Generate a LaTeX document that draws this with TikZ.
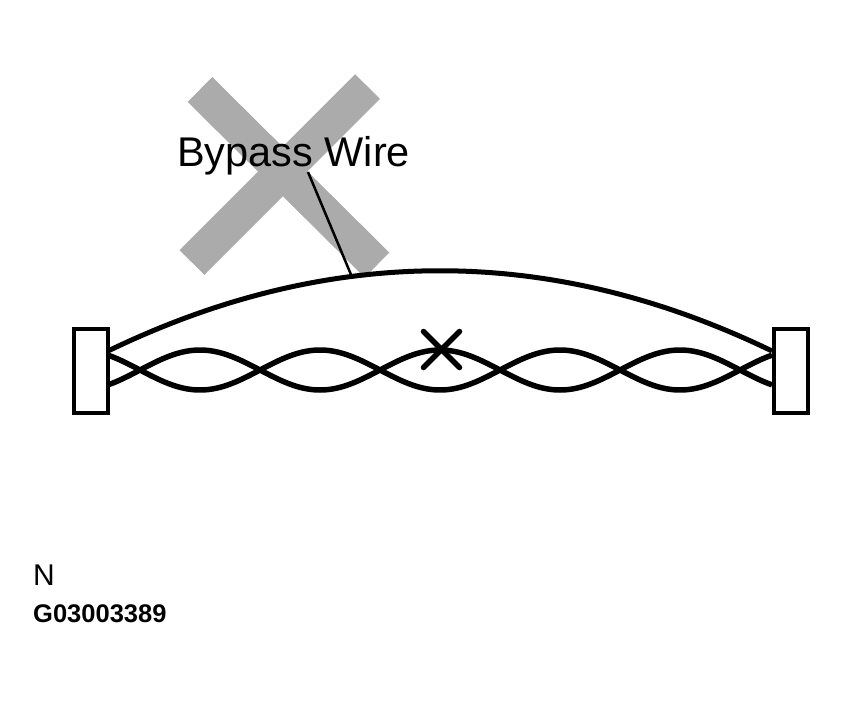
\documentclass[tikz,border=0pt]{standalone}
\usepackage{fontspec}
\setmainfont{Liberation Sans}
\usetikzlibrary{calc}
\begin{document}
\begin{tikzpicture}[x=1pt,y=-1pt,
  band/.style={line width=35pt,black!33,line cap=butt},
  wire/.style={line width=5.5pt,black},
  conn/.style={draw=black,line width=4pt,fill=white,minimum width=34pt,minimum height=84pt,inner sep=0pt},
  bypass/.style={line width=5pt,black},
  ptr/.style={line width=2.5pt,black},
  cut/.style={line width=5.5pt,black,line cap=round},
  lbl/.style={inner sep=0pt,anchor=base west}]
\useasboundingbox (0,0) rectangle (848,706);
% crossed-out (gray X)
\coordinate (a1) at (200,89.5);
\coordinate (a2) at (377,265);
\coordinate (b1) at (367.5,86.5);
\coordinate (b2) at (192,262.5);
\draw[band] (a1) -- (a2);
\draw[band] (b1) -- (b2);
% connectors
\node[conn] (left) at (90.5,370.5) {};
\node[conn] (right) at (790.5,370.5) {};
% twisted pair
\draw[wire] plot[smooth,domain=108:772,samples=120] (\x,{370+20*sin(1.5*(\x-140))});
\draw[wire] plot[smooth,domain=108:772,samples=120] (\x,{370-20*sin(1.5*(\x-140))});
% bypass wire
\coordinate (bl) at (108,351);
\coordinate (br) at (772,351);
\draw[bypass] (bl) .. controls (329.3,244) and (550.7,244) .. (br);
% cut mark
\coordinate (xc) at (441.5,349.5);
\draw[cut] ($(xc)+(-18,-18)$) -- ($(xc)+(18,18)$);
\draw[cut] ($(xc)+(18,-18)$) -- ($(xc)+(-18,18)$);
% label
\node[lbl,font=\fontsize{41.5}{44}\selectfont] (bw) at (177,166) {Bypass Wire};
\coordinate (ps) at (308,172);
\coordinate (pe) at (352,277);
\draw[ptr] (ps) -- (pe);
% footer
\node[lbl,font=\fontsize{30}{32}\selectfont] (n) at (33,585) {N};
\node[lbl,font=\bfseries\fontsize{25.5}{28}\selectfont] (g) at (33,622) {G03003389};
\end{tikzpicture}
\end{document}
